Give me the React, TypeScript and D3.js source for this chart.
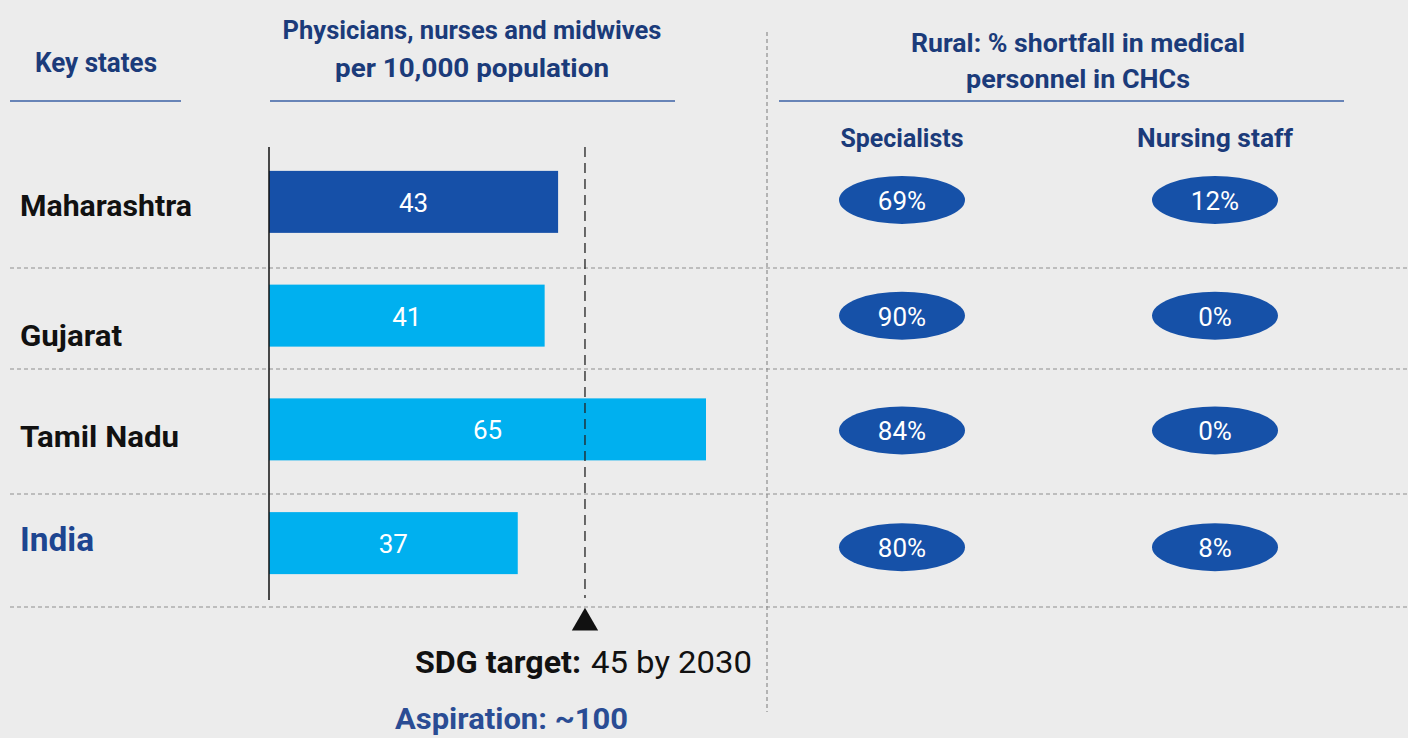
import React from "react";
import * as d3 from "d3";

// ---------- data ----------
const states = ["Maharashtra", "Gujarat", "Tamil Nadu", "India"];
const workforcePer10k = [43, 41, 65, 37];
const shortfallColumns = ["Specialists", "Nursing staff"];
const specialistShortfall = [69, 90, 84, 80];
const nursingShortfall = [12, 0, 0, 8];
const highlightState = "Maharashtra";
const nationalLabel = "India";
const sdgTargetValue = 45;
const sdgTargetYear = 2030;
const sdgMarkerValue = 47; // position of the dashed marker as drawn in the picture
const aspirationLabel = "~100";

// ---------- layout ----------
const W = 1408;
const H = 738;
const FONT = "Roboto, 'Noto Sans', sans-serif";
const C = {
  bg: "#ececec",
  navy: "#1b3b7a",
  rule: "#3c62a6",
  dark: "#1650a8",
  light: "#00b0ef",
  ell: "#1651a8",
  grid: "#8e8e8e",
  ink: "#111111",
};
const rowDividers = [268, 369, 494, 607];
const labelDy = [14, 30, 18, 8];
const labelWidths = [172, 102, 159, 74];
const ellipseDy = [-2, 0, 1, 4];

function T(props: any) {
  const { x, y, w, size, weight = 700, fill, anchor = "start", children } = props;
  return (
    <text
      x={x}
      y={y}
      fontFamily={FONT}
      fontSize={size}
      fontWeight={weight}
      fill={fill}
      textAnchor={anchor}
      textLength={w}
      lengthAdjust={w ? "spacingAndGlyphs" : undefined}
    >
      {children}
    </text>
  );
}

export default function App() {
  const x = d3.scaleLinear().domain([0, 65]).range([269, 706]);
  const y = d3.scalePoint<string>().domain(states).range([145, 600]).padding(0.5);
  const colX = d3.scalePoint<string>().domain(shortfallColumns).range([902, 1215]);
  const barH = 62;
  const shortfalls = [specialistShortfall, nursingShortfall];
  const mx = x(sdgMarkerValue);
  const tri = d3.symbol().type(d3.symbolTriangle).size(300)();

  return (
    <svg
      width={W}
      height={H}
      style={{ position: "absolute", left: 0, top: 0, display: "block" }}
    >
      <rect width={W} height={H} fill={C.bg} />

      {/* headers */}
      <T x={96} y={72} w={122} size={27} fill={C.navy} anchor="middle">Key states</T>
      <line x1={10} x2={181} y1={101} y2={101} stroke={C.rule} strokeWidth={1.5} />

      <T x={472} y={39} w={379} size={26} fill={C.navy} anchor="middle">
        Physicians, nurses and midwives
      </T>
      <T x={472} y={77} w={274} size={26} fill={C.navy} anchor="middle">
        per 10,000 population
      </T>
      <line x1={270} x2={675} y1={101} y2={101} stroke={C.rule} strokeWidth={1.5} />

      <T x={1078} y={52} w={334} size={26} fill={C.navy} anchor="middle">
        Rural: % shortfall in medical
      </T>
      <T x={1078} y={88} w={224} size={26} fill={C.navy} anchor="middle">
        personnel in CHCs
      </T>
      <line x1={779} x2={1344} y1={101} y2={101} stroke={C.rule} strokeWidth={1.5} />

      {shortfallColumns.map((c, i) => (
        <T key={c} x={colX(c)} y={147} w={i === 0 ? 123 : 156} size={26} fill={C.navy} anchor="middle">
          {c}
        </T>
      ))}

      {/* vertical section divider */}
      <line x1={767} x2={767} y1={32} y2={712} stroke={C.grid} strokeWidth={1.2} strokeDasharray="4 3" />

      {/* row dividers */}
      {rowDividers.map((yy) => (
        <line key={yy} x1={10} x2={W} y1={yy} y2={yy} stroke={C.grid} strokeWidth={1.2} strokeDasharray="4 3" />
      ))}

      {/* bars */}
      {states.map((s, i) => {
        const cy = y(s)!;
        return (
          <g key={s}>
            <rect
              x={x(0)}
              y={cy - barH / 2}
              width={x(workforcePer10k[i]) - x(0)}
              height={barH}
              fill={s === highlightState ? C.dark : C.light}
            />
            <text
              x={(x(0) + x(workforcePer10k[i])) / 2}
              y={cy + 10}
              fontFamily={FONT}
              fontSize={26}
              fill="#ffffff"
              textAnchor="middle"
            >
              {workforcePer10k[i]}
            </text>
            <T
              x={20}
              y={cy + labelDy[i]}
              w={labelWidths[i]}
              size={s === nationalLabel ? 33 : 30}
              fill={s === nationalLabel ? "#1d4590" : C.ink}
            >
              {s}
            </T>
          </g>
        );
      })}

      {/* axis line */}
      <line x1={x(0)} x2={x(0)} y1={147} y2={600} stroke="#111" strokeWidth={1.5} />

      {/* SDG marker */}
      <line x1={mx} x2={mx} y1={147} y2={598} stroke="#222" strokeWidth={1.3} strokeDasharray="10 6" />
      <path d={tri!} transform={`translate(${mx},${623})`} fill="#111" />

      <T x={415} y={673} w={166} size={32} fill={C.ink}>SDG target:</T>
      <T x={591} y={673} w={161} size={32} weight={400} fill={C.ink}>
        {`${sdgTargetValue} by ${sdgTargetYear}`}
      </T>
      <T x={395} y={729} w={233} size={30} fill="#2a4c94">{`Aspiration: ${aspirationLabel}`}</T>

      {/* shortfall ellipses */}
      {states.map((s, i) =>
        shortfallColumns.map((c, j) => (
          <g key={s + c}>
            <ellipse cx={colX(c)} cy={y(s)! + ellipseDy[i]} rx={63} ry={24} fill={C.ell} />
            <text
              x={colX(c)}
              y={y(s)! + ellipseDy[i] + 10}
              fontFamily={FONT}
              fontSize={26}
              fill="#ffffff"
              textAnchor="middle"
            >
              {`${shortfalls[j][i]}%`}
            </text>
          </g>
        ))
      )}
    </svg>
  );
}
